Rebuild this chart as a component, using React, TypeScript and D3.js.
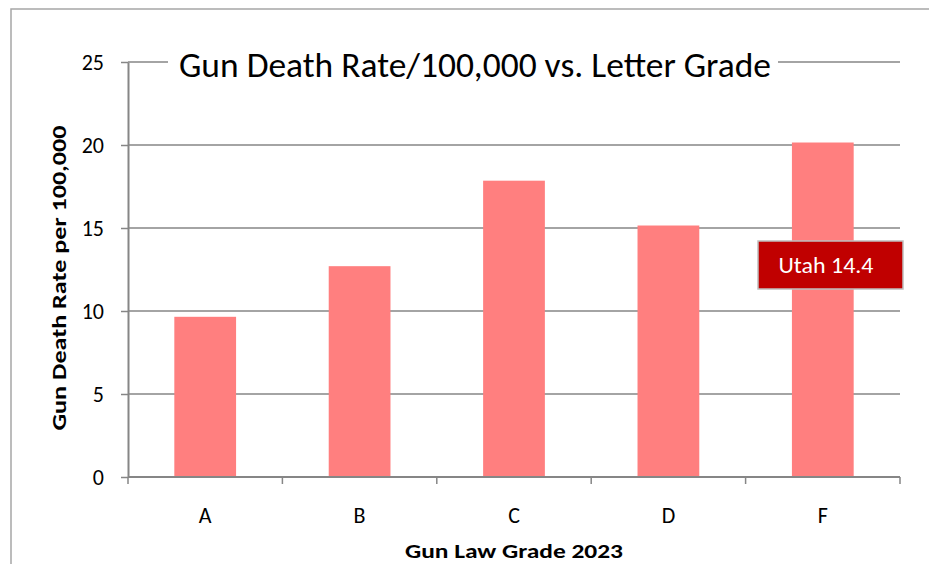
import React, { useRef, useEffect } from 'react';
import * as d3 from 'd3';

const grades = ['A', 'B', 'C', 'D', 'F'];
const deathRates = [9.65, 12.7, 17.85, 15.15, 20.15];
const yTicks = [0, 5, 10, 15, 20, 25];
const calloutText = 'Utah 14.4';

const W = 929;
const H = 564;

const App = () => {
  const svgRef = useRef<SVGSVGElement>(null);

  useEffect(() => {
    const svg = d3.select(svgRef.current);
    svg.selectAll('*').remove();

    const font = 'Carlito, Calibri, Lato, sans-serif';
    const margin = { top: 62, right: 29, bottom: 87, left: 128 };
    const innerW = W - margin.left - margin.right;
    const innerH = H - margin.top - margin.bottom;

    // outer chart frame
    svg.append('rect')
      .attr('x', 11).attr('y', 9)
      .attr('width', W + 10).attr('height', H + 10)
      .attr('fill', 'white')
      .attr('stroke', '#a6a6a6')
      .attr('stroke-width', 1.5);

    const g = svg.append('g')
      .attr('transform', `translate(${margin.left},${margin.top})`);

    const x = d3.scaleBand()
      .domain(grades)
      .range([0, innerW])
      .paddingInner(0.6)
      .paddingOuter(0.3);

    const y = d3.scaleLinear()
      .domain([0, 25])
      .range([innerH, 0]);

    // gridlines
    g.append('g')
      .selectAll('line')
      .data(yTicks.filter(d => d > 0))
      .join('line')
      .attr('x1', 0).attr('x2', innerW)
      .attr('y1', d => y(d)).attr('y2', d => y(d))
      .attr('stroke', '#868686')
      .attr('stroke-width', 1.5);

    // bars
    g.append('g')
      .selectAll('rect')
      .data(grades)
      .join('rect')
      .attr('x', d => x(d)!)
      .attr('width', x.bandwidth())
      .attr('y', (d, i) => y(deathRates[i]))
      .attr('height', (d, i) => innerH - y(deathRates[i]))
      .attr('fill', '#ff7f7f');

    // y axis
    const yAxis = g.append('g')
      .call(d3.axisLeft(y).tickValues(yTicks).tickSize(7).tickPadding(17).tickSizeOuter(0));
    yAxis.select('.domain').attr('stroke', '#868686').attr('stroke-width', 2);
    yAxis.selectAll('.tick line').attr('stroke', '#868686').attr('stroke-width', 1.5);
    yAxis.selectAll('.tick text')
      .attr('font-family', font).attr('font-size', 22).attr('fill', '#000');

    // x axis with boundary ticks
    const xb = g.append('g').attr('transform', `translate(0,${innerH})`);
    xb.append('line')
      .attr('x1', 0).attr('x2', innerW)
      .attr('stroke', '#868686').attr('stroke-width', 2);
    const step = x.step();
    xb.selectAll('line.tk')
      .data(d3.range(grades.length + 1))
      .join('line')
      .attr('class', 'tk')
      .attr('x1', i => i * step).attr('x2', i => i * step)
      .attr('y1', 0).attr('y2', 7)
      .attr('stroke', '#868686').attr('stroke-width', 1.5);
    xb.selectAll('text')
      .data(grades)
      .join('text')
      .attr('x', d => x(d)! + x.bandwidth() / 2)
      .attr('y', 46)
      .attr('text-anchor', 'middle')
      .attr('font-family', font).attr('font-size', 22)
      .text(d => d);

    // axis titles
    svg.append('text')
      .attr('x', margin.left + innerW / 2)
      .attr('y', 558)
      .attr('text-anchor', 'middle')
      .attr('font-family', font).attr('font-size', 20).attr('font-weight', 'bold')
      .attr('textLength', 218).attr('lengthAdjust', 'spacingAndGlyphs')
      .text('Gun Law Grade 2023');

    svg.append('text')
      .attr('transform', `translate(66,${278}) rotate(-90)`)
      .attr('text-anchor', 'middle')
      .attr('font-family', font).attr('font-size', 21).attr('font-weight', 'bold')
      .attr('textLength', 305).attr('lengthAdjust', 'spacingAndGlyphs')
      .text('Gun Death Rate  per 100,000');

    // chart title over the top gridline
    svg.append('rect')
      .attr('x', 168).attr('y', 40)
      .attr('width', 610).attr('height', 46)
      .attr('fill', 'white');
    svg.append('text')
      .attr('x', 475).attr('y', 77)
      .attr('text-anchor', 'middle')
      .attr('font-family', font).attr('font-size', 34)
      .attr('textLength', 592).attr('lengthAdjust', 'spacingAndGlyphs')
      .text('Gun Death Rate/100,000 vs. Letter Grade');

    // Utah callout
    svg.append('rect')
      .attr('x', 758).attr('y', 241)
      .attr('width', 145).attr('height', 48)
      .attr('fill', '#c00000')
      .attr('stroke', '#bfbfbf').attr('stroke-width', 1.5);
    svg.append('text')
      .attr('x', 826).attr('y', 273)
      .attr('text-anchor', 'middle')
      .attr('font-family', font).attr('font-size', 22)
      .attr('fill', 'white')
      .attr('textLength', 95).attr('lengthAdjust', 'spacingAndGlyphs')
      .text(calloutText);
  }, []);

  return (
    <svg
      ref={svgRef}
      width={W}
      height={H}
      style={{ position: 'absolute', left: 0, top: 0, background: 'white' }}
    />
  );
};

export default App;
